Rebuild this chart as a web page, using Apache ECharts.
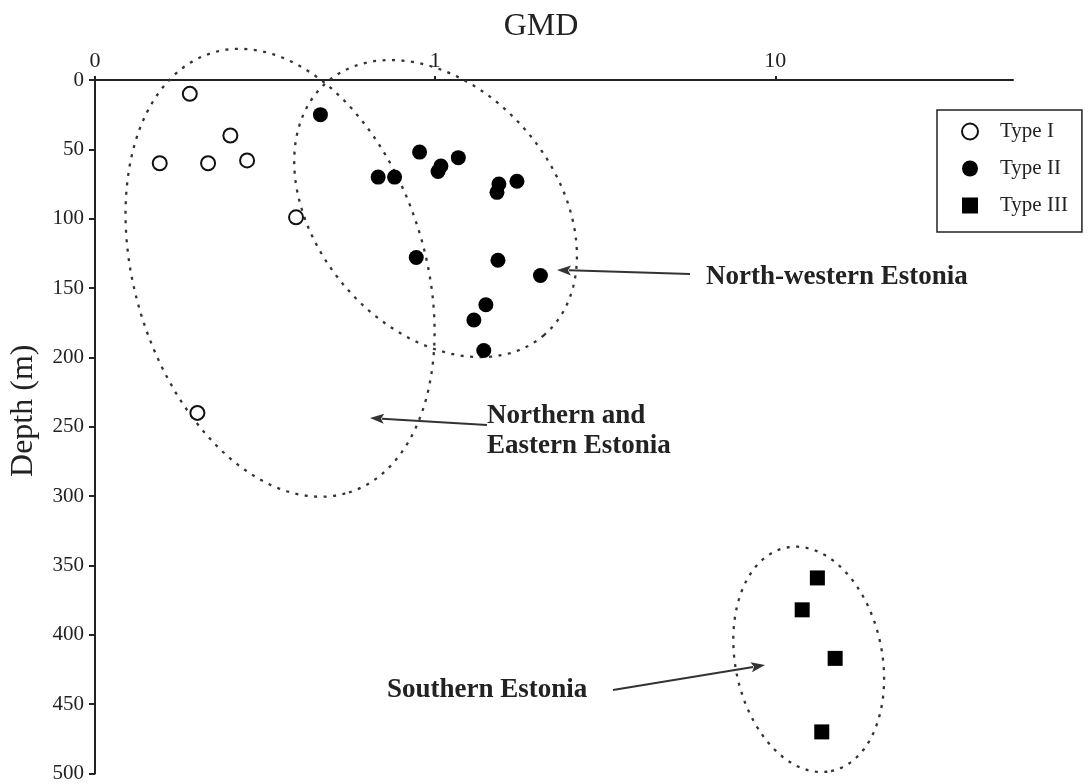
<!DOCTYPE html>
<html>
<head>
<meta charset="utf-8">
<title>GMD vs depth</title>
<script src="https://cdn.jsdelivr.net/npm/echarts@6/dist/echarts.min.js"></script>
<style>
  html, body { margin: 0; padding: 0; background: #ffffff; }
  #chart { width: 1089px; height: 784px; }
</style>
</head>
<body>
<div id="chart"></div>
<script>
// ---- data ----
const seriesNames = ['Type I', 'Type II', 'Type III'];

const gmdType1   = [0.19, 0.25, 0.155, 0.215, 0.28, 0.39, 0.20];
const depthType1 = [10, 40, 60, 60, 58, 99, 240];

const gmdType2   = [0.46, 0.90, 0.68, 0.76, 1.04, 1.02, 1.17, 1.54, 1.52, 1.74, 0.88, 1.53, 2.04, 1.41, 1.30, 1.39];
const depthType2 = [25, 52, 70, 70, 62, 66, 56, 75, 81, 73, 128, 130, 141, 162, 173, 195];

const gmdType3   = [13.3, 12.0, 15.0, 13.7];
const depthType3 = [359, 382, 417, 470];

const gmdTicks = [0.1, 1, 10];
const gmdRange = [0.1, 50];
const depthRange = [0, 500];
const depthStep = 50;

// Dotted outlines around the regional groups, in (GMD, depth) units:
// centre, end of the long semi-axis, end of the short semi-axis.
const outlineCentres = [[0.35, 139], [1.003, 92.7], [12.54, 417.7]];
const outlineMajorEnds = [[0.558, 297.4], [2.085, 184.2], [14.59, 498.3]];
const outlineMinorEnds = [[0.893, 107.5], [1.859, 37.0], [20.42, 407.3]];

// ---- chart ----
const FONT = '"Liberation Serif", "Times New Roman", serif';
const INK = '#222';

const zip = (xs, ys) => xs.map((x, i) => [x, ys[i]]);

const outlineData = outlineCentres.map((c, i) =>
  [c[0], c[1], outlineMajorEnds[i][0], outlineMajorEnds[i][1], outlineMinorEnds[i][0], outlineMinorEnds[i][1]]);

// Each outline is an ellipse spanned by two conjugate semi-axes in pixel space.
function renderOutline(params, api) {
  const c = api.coord([api.value(0), api.value(1)]);
  const m = api.coord([api.value(2), api.value(3)]);
  const n = api.coord([api.value(4), api.value(5)]);
  const ux = m[0] - c[0], uy = m[1] - c[1];
  const vx = n[0] - c[0], vy = n[1] - c[1];
  const pts = [];
  const N = 120;
  for (let k = 0; k < N; k++) {
    const t = 2 * Math.PI * k / N;
    pts.push([c[0] + ux * Math.cos(t) + vx * Math.sin(t), c[1] + uy * Math.cos(t) + vy * Math.sin(t)]);
  }
  return {
    type: 'polygon',
    shape: { points: pts },
    style: { fill: 'none', stroke: '#333', lineWidth: 2.3, lineDash: [3, 6.5] }
  };
}

function arrow(x1, y1, x2, y2) {
  const len = 14, half = 5;
  const dx = x2 - x1, dy = y2 - y1;
  const d = Math.hypot(dx, dy);
  const ex = dx / d, ey = dy / d;
  const bx = x2 - ex * len, by = y2 - ey * len;
  return [
    { type: 'line', shape: { x1: x1, y1: y1, x2: bx + ex * 2, y2: by + ey * 2 },
      style: { stroke: '#333', lineWidth: 2 } },
    { type: 'polygon',
      shape: { points: [[x2, y2], [bx - ey * half, by + ex * half], [bx + ex * 3, by + ey * 3], [bx + ey * half, by - ex * half]] },
      style: { fill: '#333' } }
  ];
}

const labelFont = 'bold 27px ' + FONT;

const chart = echarts.init(document.getElementById('chart'), null, { renderer: 'canvas' });

chart.setOption({
  backgroundColor: '#ffffff',
  animation: false,
  grid: { left: 93, top: 80, right: 76, bottom: 8, containLabel: false },
  xAxis: {
    type: 'log',
    logBase: 10,
    position: 'top',
    min: gmdRange[0],
    max: gmdRange[1],
    name: 'GMD',
    nameLocation: 'middle',
    nameGap: 37,
    nameTextStyle: { fontFamily: FONT, fontSize: 32, color: INK, padding: [0, 26, 0, 0] },
    axisLine: { show: true, lineStyle: { color: INK, width: 2 } },
    axisTick: { show: true, customValues: gmdTicks, length: 4, lineStyle: { color: INK, width: 2 } },
    axisLabel: {
      customValues: gmdTicks,
      formatter: v => String(Math.round(v)),
      fontFamily: FONT, fontSize: 22, color: INK, margin: 8
    },
    splitLine: { show: false },
    minorTick: { show: false }
  },
  yAxis: {
    type: 'value',
    inverse: true,
    min: depthRange[0],
    max: depthRange[1],
    interval: depthStep,
    name: 'Depth (m)',
    nameLocation: 'middle',
    nameRotate: 90,
    nameGap: 55,
    nameTextStyle: { fontFamily: FONT, fontSize: 32, color: INK, padding: [0, 0, 0, 32] },
    axisLine: { show: true, lineStyle: { color: INK, width: 2 } },
    axisTick: { show: true, length: 6, lineStyle: { color: INK, width: 2 } },
    axisLabel: { fontFamily: FONT, fontSize: 21, color: INK, margin: 11 },
    splitLine: { show: false }
  },
  legend: {
    data: seriesNames,
    orient: 'vertical',
    left: 937,
    top: 110,
    padding: [11, 14, 16, 24],
    itemWidth: 16,
    itemHeight: 16,
    itemGap: 16,
    borderColor: INK,
    borderWidth: 1.5,
    borderRadius: 0,
    backgroundColor: '#ffffff',
    textStyle: { fontFamily: FONT, fontSize: 21, color: INK, padding: [0, 0, 0, 17] }
  },
  series: [
    {
      type: 'custom',
      name: 'outlines',
      silent: true,
      clip: false,
      z: 1,
      renderItem: renderOutline,
      encode: { x: [0, 2, 4], y: [1, 3, 5] },
      data: outlineData
    },
    {
      type: 'scatter', name: seriesNames[0], z: 3,
      symbol: 'circle', symbolSize: 14,
      itemStyle: { color: '#ffffff', borderColor: '#111', borderWidth: 2, opacity: 1 },
      data: zip(gmdType1, depthType1)
    },
    {
      type: 'scatter', name: seriesNames[1], z: 3,
      symbol: 'circle', symbolSize: 15,
      itemStyle: { color: '#000000', opacity: 1 },
      data: zip(gmdType2, depthType2)
    },
    {
      type: 'scatter', name: seriesNames[2], z: 3,
      symbol: 'rect', symbolSize: 15,
      itemStyle: { color: '#000000', opacity: 1 },
      data: zip(gmdType3, depthType3)
    }
  ],
  graphic: [
    ...arrow(690, 274, 557, 270),
    ...arrow(487, 425, 370, 418),
    ...arrow(613, 690, 765, 665),
    { type: 'text', x: 706, y: 277,
      style: { text: 'North-western Estonia', font: labelFont, fill: INK, align: 'left', verticalAlign: 'middle' } },
    { type: 'text', x: 487, y: 431,
      style: { text: 'Northern and\nEastern Estonia', font: labelFont, lineHeight: 30, fill: INK, align: 'left', verticalAlign: 'middle' } },
    { type: 'text', x: 387, y: 690,
      style: { text: 'Southern Estonia', font: labelFont, fill: INK, align: 'left', verticalAlign: 'middle' } }
  ]
});
</script>
</body>
</html>
